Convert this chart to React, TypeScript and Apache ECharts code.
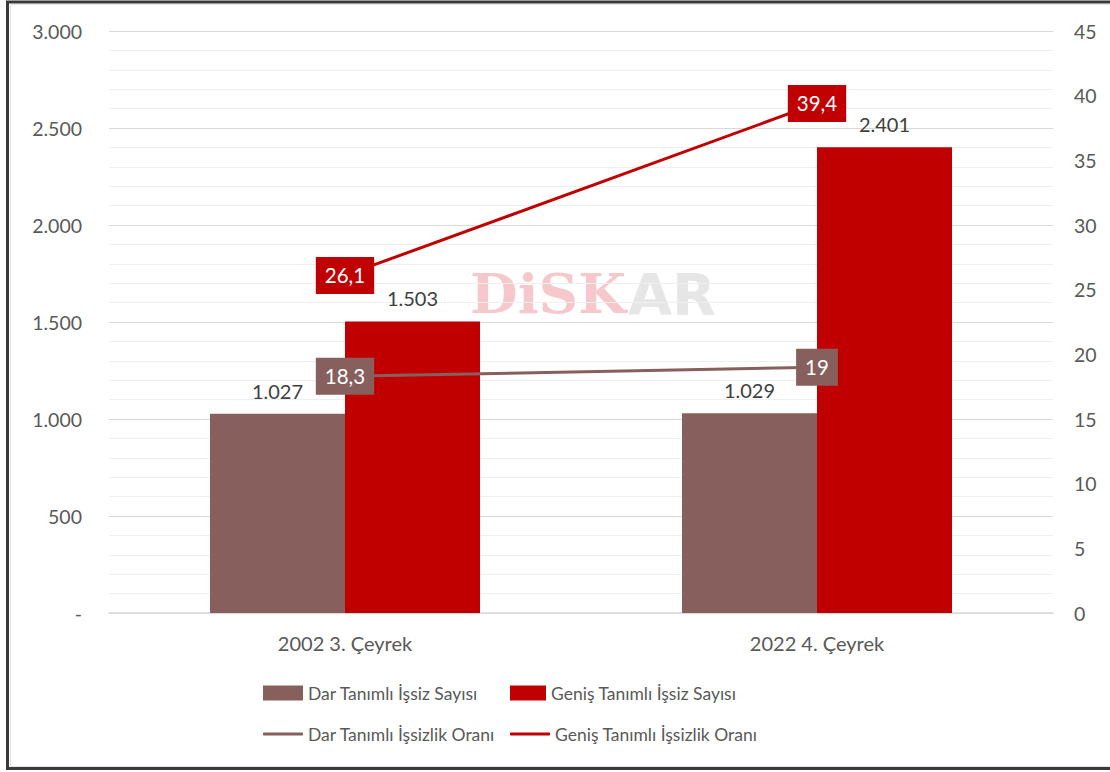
import React, { useEffect, useRef } from "react";
import * as echarts from "echarts";

const categories = ["2002 3. Çeyrek", "2022 4. Çeyrek"];
const darSayi = [1027, 1029];
const genisSayi = [1503, 2401];
const darOran = [18.3, 19];
const genisOran = [26.1, 39.4];
const seriesNames = [
  "Dar Tanımlı İşsiz Sayısı",
  "Geniş Tanımlı İşsiz Sayısı",
  "Dar Tanımlı İşsizlik Oranı",
  "Geniş Tanımlı İşsizlik Oranı",
];

const BROWN = "#875F5D";
const RED = "#C00000";
const FONT = "Lato, 'Noto Sans', sans-serif";

const fmtThousands = (v: number) => {
  if (v === 0) return "-";
  return String(Math.round(v)).replace(/\B(?=(\d{3})+(?!\d))/g, ".");
};
const fmtComma = (v: number) => String(v).replace(".", ",");

export default function App() {
  const ref = useRef<HTMLDivElement>(null);
  useEffect(() => {
    if (!ref.current) return;
    const chart = echarts.init(ref.current, undefined, { renderer: "svg" });
    const legendText = { fontSize: 17.5, color: "#595959", fontFamily: FONT };
    const lineLabel = (color: string) => ({
      show: true,
      position: "inside" as const,
      formatter: (p: any) => fmtComma(p.value),
      color: "#fff",
      backgroundColor: color,
      padding: [9, 9, 7, 9],
      fontSize: 20.5,
      fontFamily: FONT,
    });
    const barLabel = {
      show: true,
      position: "top" as const,
      distance: 13,
      color: "#404040",
      fontSize: 20,
      fontFamily: FONT,
      formatter: (p: any) => fmtThousands(p.value),
    };
    chart.setOption({
      animation: false,
      backgroundColor: "#fff",
      textStyle: { fontFamily: FONT },
      grid: { left: 109, right: 57, top: 31, bottom: 159, containLabel: false },
      xAxis: {
        type: "category",
        data: categories,
        axisLine: { show: true, lineStyle: { color: "#d9d9d9", width: 1.5 } },
        axisTick: { show: false },
        axisLabel: { color: "#595959", fontSize: 20, margin: 20, fontFamily: FONT },
      },
      yAxis: [
        {
          type: "value",
          min: 0,
          max: 3000,
          interval: 500,
          axisLine: { show: false },
          axisTick: { show: false },
          axisLabel: {
            color: "#595959",
            fontSize: 19.5,
            margin: 27,
            fontFamily: FONT,
            formatter: (v: number) => fmtThousands(v),
          },
          splitLine: { show: true, lineStyle: { color: "#d9d9d9", width: 1 } },
          minorTick: { show: false, splitNumber: 5 },
          minorSplitLine: { show: true, lineStyle: { color: "#efefef", width: 1 } },
        },
        {
          type: "value",
          min: 0,
          max: 45,
          interval: 5,
          axisLine: { show: false },
          axisTick: { show: false },
          splitLine: { show: false },
          axisLabel: { color: "#595959", fontSize: 19.5, margin: 21, fontFamily: FONT },
        },
      ],
      legend: [
        {
          data: [{ name: seriesNames[0], icon: "rect" }],
          left: 258,
          top: 679,
          itemWidth: 40,
          itemHeight: 15,
          itemGap: 0,
          textStyle: legendText,
          selectedMode: false,
        },
        {
          data: [{ name: seriesNames[1], icon: "rect" }],
          left: 505,
          top: 679,
          itemWidth: 36,
          itemHeight: 15,
          itemGap: 0,
          textStyle: legendText,
          selectedMode: false,
        },
        {
          data: [{ name: seriesNames[2], icon: "roundRect" }],
          left: 258,
          top: 720,
          itemWidth: 40,
          itemHeight: 3,
          itemGap: 0,
          textStyle: legendText,
          selectedMode: false,
        },
        {
          data: [{ name: seriesNames[3], icon: "roundRect" }],
          left: 505,
          top: 720,
          itemWidth: 40,
          itemHeight: 3,
          itemGap: 0,
          textStyle: legendText,
          selectedMode: false,
        },
      ],
      graphic: [
        {
          type: "group",
          left: 470,
          top: 266,
          z: -1,
          silent: true,
          children: [
            {
              type: "text",
              x: 0,
              y: 0,
              style: {
                text: "DiSK",
                fontSize: 55,
                fontWeight: "bold",
                fontFamily: "'DejaVu Serif', serif",
                fill: "rgba(232,110,120,0.38)",
              },
            },
            {
              type: "text",
              x: 158,
              y: 0,
              style: {
                text: "AR",
                fontSize: 57,
                fontWeight: "bold",
                fontFamily: "'DejaVu Sans', sans-serif",
                fill: "rgba(200,200,200,0.45)",
              },
            },
          ],
        },
        {
          type: "rect",
          shape: { x: 7.5, y: 2, width: 1110, height: 766.5 },
          style: { fill: "none", stroke: "#3a3a3a", lineWidth: 3 },
          silent: true,
        },
        {
          type: "rect",
          shape: { x: 10.5, y: 4.5, width: 1110, height: 762 },
          style: { fill: "none", stroke: "#e2e2e2", lineWidth: 1 },
          silent: true,
        },
      ],
      series: [
        {
          name: seriesNames[0],
          type: "bar",
          data: darSayi,
          yAxisIndex: 0,
          barWidth: 135,
          barGap: "0%",
          itemStyle: { color: BROWN },
          label: barLabel,
        },
        {
          name: seriesNames[1],
          type: "bar",
          data: genisSayi,
          yAxisIndex: 0,
          barWidth: 135,
          barGap: "0%",
          itemStyle: { color: RED },
          label: barLabel,
        },
        {
          name: seriesNames[2],
          type: "line",
          data: darOran,
          yAxisIndex: 1,
          symbol: "circle",
          symbolSize: 1,
          itemStyle: { color: BROWN },
          lineStyle: { color: BROWN, width: 3 },
          label: lineLabel(BROWN),
          z: 5,
        },
        {
          name: seriesNames[3],
          type: "line",
          data: genisOran,
          yAxisIndex: 1,
          symbol: "circle",
          symbolSize: 1,
          itemStyle: { color: RED },
          lineStyle: { color: RED, width: 3 },
          label: lineLabel(RED),
          z: 5,
        },
      ],
    });
    return () => chart.dispose();
  }, []);
  return (
    <div
      ref={ref}
      style={{ position: "absolute", left: 0, top: 0, width: 1110, height: 772 }}
    />
  );
}
